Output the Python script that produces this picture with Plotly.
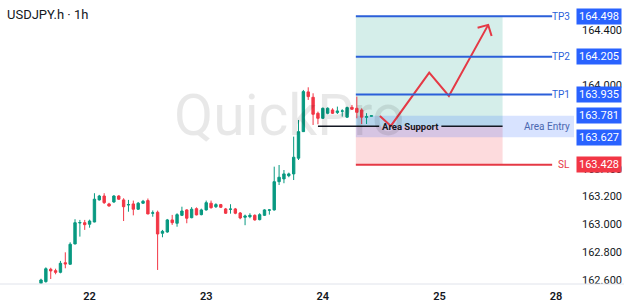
import plotly.graph_objects as go

# ---------------- data ----------------
hours = list(range(-10, 59))  # hourly candles, 0 = start of day "22"
opens = [162.576, 162.588, 162.677, 162.667, 162.655, 162.724, 162.713, 162.859, 163.010, 163.012,
         163.001, 163.017, 163.176, 163.204, 163.147, 163.161, 163.204, 163.176, 163.140, 163.147,
         163.109, 163.152, 163.171, 163.080, 163.087, 162.936, 162.945, 163.032, 163.008, 163.065,
         163.104, 163.048, 163.113, 163.070, 163.104, 163.152, 163.127, 163.142, 163.111, 163.108,
         163.111, 163.082, 163.051, 163.055, 163.065, 163.034, 163.065, 163.102, 163.104, 163.307,
         163.327, 163.350, 163.363, 163.476, 163.667, 163.953, 163.914, 163.799, 163.763, 163.799,
         163.823, 163.804, 163.814, 163.771, 163.842, 163.835, 163.823, 163.770, 163.778]
highs = [162.609, 162.691, 162.688, 162.681, 162.737, 162.799, 162.871, 163.037, 163.032, 163.032,
         163.034, 163.224, 163.212, 163.224, 163.155, 163.210, 163.210, 163.188, 163.176, 163.171,
         163.161, 163.176, 163.186, 163.100, 163.099, 162.960, 163.039, 163.068, 163.080, 163.127,
         163.109, 163.124, 163.122, 163.113, 163.171, 163.171, 163.152, 163.147, 163.118, 163.145,
         163.118, 163.089, 163.070, 163.080, 163.072, 163.080, 163.109, 163.109, 163.415, 163.427,
         163.391, 163.372, 163.631, 163.751, 163.967, 163.986, 163.943, 163.811, 163.840, 163.842,
         163.835, 163.847, 163.828, 163.847, 163.859, 163.919, 163.835, 163.800, 163.782]
lows = [162.571, 162.581, 162.607, 162.641, 162.648, 162.684, 162.711, 162.857, 162.912, 162.960,
        162.976, 163.015, 163.171, 163.147, 163.128, 163.155, 163.176, 163.024, 163.091, 163.065,
        163.104, 163.147, 163.073, 163.055, 162.672, 162.907, 162.940, 162.996, 162.983, 163.060,
        163.008, 163.044, 163.065, 163.065, 163.099, 163.113, 163.118, 163.118, 163.075, 163.077,
        163.073, 163.037, 162.994, 163.044, 163.027, 163.029, 163.060, 163.070, 163.099, 163.283,
        163.296, 163.339, 163.319, 163.463, 163.665, 163.895, 163.715, 163.720, 163.758, 163.792,
        163.794, 163.794, 163.775, 163.765, 163.823, 163.763, 163.722, 163.722, 163.777]
closes = [162.600, 162.681, 162.665, 162.655, 162.720, 162.715, 162.857, 163.012, 163.013, 162.998,
          163.024, 163.181, 163.204, 163.156, 163.132, 163.204, 163.181, 163.127, 163.142, 163.109,
          163.152, 163.166, 163.075, 163.083, 162.931, 162.950, 163.032, 163.012, 163.070, 163.096,
          163.044, 163.109, 163.068, 163.104, 163.156, 163.120, 163.142, 163.123, 163.080, 163.110,
          163.080, 163.046, 163.060, 163.065, 163.032, 163.070, 163.104, 163.104, 163.307, 163.339,
          163.363, 163.363, 163.483, 163.667, 163.955, 163.919, 163.792, 163.763, 163.835, 163.835,
          163.799, 163.816, 163.816, 163.840, 163.828, 163.806, 163.771, 163.775, 163.781]

day_ticks = [0, 24, 48, 72, 96]
day_labels = ["22", "23", "24", "25", "28"]
# price ticks that are not fully hidden behind the level labels
price_ticks = [162.6, 162.8, 163.0, 163.2, 163.4, 164.0, 164.4, 164.6]

tp_names = ["TP3", "TP2", "TP1"]
tp_prices = [164.498, 164.205, 163.935]
entry_top, entry_bottom = 163.781, 163.627
entry_price = 163.705
sl_price = 163.428

zone_x = [54.8, 85.0]        # position tool span (hours)
level_x = [54.8, 95.2]       # TP/SL line span
support_x = [47.0, 59.6, 72.4, 85.0]
support_label_x = 66.0
x_range = [-18.44, 99.7]
y_range = [162.571, 164.614]

path_x = [59.75, 62.0, 69.9, 73.95, 82.04]
path_y = [163.780, 163.708, 164.091, 163.924, 164.435]
head_x = [79.86, 82.04, 82.74]
head_y = [164.415, 164.435, 164.355]

GREEN = "#089981"
RED = "#f23645"
BLUE = "#2b5fd9"
LRED = "#e53945"
FONT = "Roboto"

fig = go.Figure()
fig.add_trace(go.Candlestick(
    x=hours, open=opens, high=highs, low=lows, close=closes,
    increasing=dict(line=dict(color=GREEN, width=1), fillcolor=GREEN),
    decreasing=dict(line=dict(color=RED, width=1), fillcolor=RED),
    whiskerwidth=0, hoverinfo="skip", showlegend=False))

shapes = []
shapes.append(dict(type="rect", xref="x", yref="y", x0=zone_x[0], x1=zone_x[1], y0=entry_price, y1=tp_prices[0],
                   fillcolor="rgba(8,153,129,0.17)", line=dict(width=0), layer="below"))
shapes.append(dict(type="rect", xref="x", yref="y", x0=zone_x[0], x1=zone_x[1], y0=sl_price, y1=entry_price,
                   fillcolor="rgba(242,54,69,0.18)", line=dict(width=0), layer="below"))
shapes.append(dict(type="rect", xref="x", yref="y", x0=zone_x[0], x1=x_range[1], y0=entry_bottom, y1=entry_top,
                   fillcolor="rgba(41,98,255,0.18)", line=dict(width=0), layer="below"))
for p in tp_prices:
    shapes.append(dict(type="line", xref="x", yref="y", x0=level_x[0], x1=level_x[1], y0=p, y1=p,
                       line=dict(color=BLUE, width=2)))
shapes.append(dict(type="line", xref="x", yref="y", x0=level_x[0], x1=level_x[1], y0=sl_price, y1=sl_price,
                   line=dict(color=LRED, width=2)))
for a, b in [(support_x[0], support_x[1]), (support_x[2], support_x[3])]:
    shapes.append(dict(type="line", xref="x", yref="y", x0=a, x1=b, y0=entry_price, y1=entry_price,
                       line=dict(color="#131722", width=1.5)))
shapes.append(dict(type="line", xref="paper", yref="paper", x0=0, x1=1.1, y0=0, y1=0,
                   line=dict(color="#e0e3eb", width=1)))

fig.add_trace(go.Scatter(x=path_x + [None] + head_x, y=path_y + [None] + head_y, mode="lines",
                         line=dict(color=LRED, width=2), hoverinfo="skip", showlegend=False))

ann = []
ann.append(dict(text="QuickPro", xref="x", yref="y", x=41.0, y=163.78, showarrow=False,
                font=dict(family=FONT, size=57, color="rgba(0,0,0,0.09)")))
ann.append(dict(text="USDJPY.h · 1h", xref="paper", yref="paper", x=0, y=1, xanchor="left", yanchor="top",
                xshift=5, yshift=-5, showarrow=False, font=dict(family=FONT, size=13, color="#131722")))
for n, p in zip(tp_names, tp_prices):
    ann.append(dict(text=n, xref="x", yref="y", x=99.26, y=p, xanchor="right", yanchor="middle",
                    showarrow=False, font=dict(family=FONT, size=10, color=BLUE)))
ann.append(dict(text="SL", xref="x", yref="y", x=99.26, y=sl_price, xanchor="right", yanchor="middle",
                showarrow=False, font=dict(family=FONT, size=10, color=LRED)))
ann.append(dict(text="Area Entry", xref="x", yref="y", x=99.26, y=entry_price, xanchor="right", yanchor="middle",
                showarrow=False, font=dict(family=FONT, size=10, color="#4a67b0")))
ann.append(dict(text="<b>Area Support</b>", xref="x", yref="y", x=support_label_x, y=entry_price,
                xanchor="center", yanchor="middle", showarrow=False,
                font=dict(family=FONT, size=9.5, color="#131722")))
for p in tp_prices + [entry_top, entry_bottom]:
    ann.append(dict(text=f"{p:.3f}", xref="paper", yref="y", x=1, y=p, xanchor="left", yanchor="middle",
                    xshift=2, showarrow=False, bgcolor="#2962ff", borderpad=1, width=42, align="center",
                    font=dict(family=FONT, size=11, color="white")))
ann.append(dict(text=f"{sl_price:.3f}", xref="paper", yref="y", x=1, y=sl_price, xanchor="left", yanchor="middle",
                xshift=2, showarrow=False, bgcolor=RED, borderpad=1, width=42, align="center",
                font=dict(family=FONT, size=11, color="white")))

fig.update_layout(
    width=624, height=306, margin=dict(l=0, r=50, t=0, b=22),
    paper_bgcolor="white", plot_bgcolor="white",
    shapes=shapes, annotations=ann, showlegend=False, hovermode=False,
    xaxis=dict(range=x_range, tickvals=day_ticks, ticktext=day_labels, showgrid=False, zeroline=False,
               showline=False, rangeslider=dict(visible=False), ticks="", ticklabelstandoff=4,
               tickfont=dict(family=FONT, size=11, color="#131722", weight=600)),
    yaxis=dict(range=y_range, side="right", tickvals=price_ticks, tickformat=".3f", showgrid=False,
               zeroline=False, showline=False, ticks="", ticklabelstandoff=7,
               tickfont=dict(family=FONT, size=11, color="#131722")),
)

fig.write_html("out.html")
